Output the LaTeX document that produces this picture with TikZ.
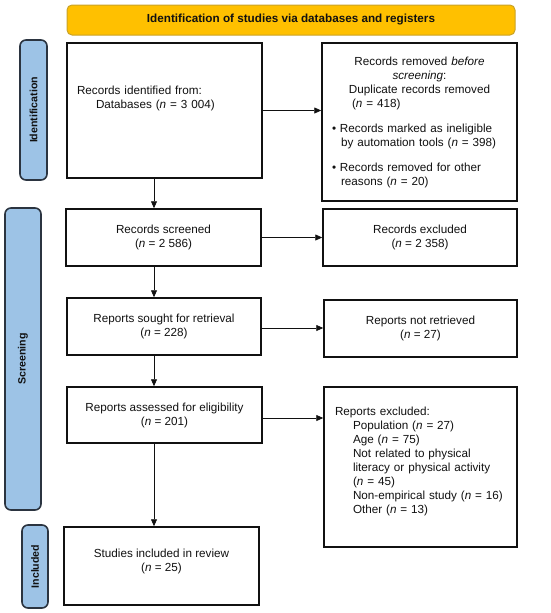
\documentclass[tikz,border=0pt]{standalone}
\usepackage{fontspec}
\setmainfont{Liberation Sans}
\usetikzlibrary{positioning, arrows.meta, calc}
\definecolor{ink}{HTML}{111111}
\definecolor{banner}{HTML}{FFC000}
\definecolor{bannerline}{HTML}{C9A227}
\definecolor{phase}{HTML}{9DC3E6}
\definecolor{phaseline}{HTML}{2B3440}
\tikzset{
  every node/.style = {text=ink},
  pbox/.style    = {draw=ink, line width=1.5pt, fill=white, align=center, inner sep=0pt,
                    font=\fontsize{11.7}{14}\selectfont},
  pbanner/.style = {draw=bannerline, line width=1pt, fill=banner, rounded corners=5pt,
                    minimum width=448pt, minimum height=30pt,
                    font=\fontsize{11.7}{14}\selectfont\bfseries},
  pphase/.style  = {draw=phaseline, line width=1.6pt, fill=phase, rounded corners=6pt,
                    rotate=90, inner sep=0pt, font=\fontsize{10.6}{13}\selectfont\bfseries},
  parr/.style    = {-{Triangle[length=7pt,width=6pt]}, draw=ink, line width=0.8pt},
}
\newcommand{\nn}{\textit{n}}

\begin{document}
\begin{tikzpicture}[x=1pt, y=-1pt]
\useasboundingbox (0,0) rectangle (550,613);

\node[pbanner] (head) at (291,20) {Identification of studies via databases and registers};

\node[pphase, minimum width=140pt, minimum height=27pt] (ident) at (33.5,110) {Identification};
\node[pphase, minimum width=302pt, minimum height=36pt] (screen) at (23,359) {Screening};
\node[pphase, minimum width=83pt, minimum height=26pt] (incl) at (35,566.5) {Included};

\node[pbox, minimum width=195pt, minimum height=135pt, text width=175pt, align=left]
  (found) at (164.5,110.5)
  {Records identified from:\\\hspace*{19pt}Databases (\nn{} = 3 004)\\[12pt]\mbox{}};
\node[pbox, minimum width=195pt, minimum height=158pt, text width=175pt, align=left]
  (removed) at (419.5,122)
  {\makebox[\linewidth]{Records removed \textit{before}}\\
   \makebox[\linewidth]{\textit{screening}:}\\
   \makebox[\linewidth]{Duplicate records removed}\\
   \hspace*{20pt}(\nn{} = 418)\\[11pt]
   \textbullet\ Records marked as ineligible\\
   \hspace*{9pt}by automation tools (\nn{} = 398)\\[11pt]
   \textbullet\ Records removed for other\\
   \hspace*{9pt}reasons (\nn{} = 20)};

\node[pbox, minimum width=195pt, minimum height=57pt] (screened) at (163.5,237.5)
  {Records screened\\(\nn{} = 2 586)};
\node[pbox, minimum width=194pt, minimum height=57pt] (excl) at (420,237.5)
  {Records excluded\\(\nn{} = 2 358)};

\node[pbox, minimum width=194pt, minimum height=57pt] (sought) at (164,326.5)
  {Reports sought for retrieval\\(\nn{} = 228)};
\node[pbox, minimum width=193pt, minimum height=57pt] (notret) at (420.5,328.5)
  {Reports not retrieved\\(\nn{} = 27)};

\node[pbox, minimum width=195pt, minimum height=56pt] (assessed) at (164.5,415)
  {Reports assessed for eligibility\\(\nn{} = 201)};
\node[pbox, minimum width=193pt, minimum height=160pt, text width=171pt, align=left]
  (repexcl) at (420.5,467)
  {Reports excluded:\\
   \hspace*{18pt}Population (\nn{} = 27)\\
   \hspace*{18pt}Age (\nn{} = 75)\\
   \hspace*{18pt}Not related to physical\\
   \hspace*{18pt}literacy or physical activity\\
   \hspace*{18pt}(\nn{} = 45)\\
   \hspace*{18pt}Non-empirical study (\nn{} = 16)\\
   \hspace*{18pt}Other (\nn{} = 13)\\[0pt]\mbox{}};

\node[pbox, minimum width=195pt, minimum height=78pt] (included) at (161.5,566)
  {Studies included in review\\(\nn{} = 25)\\[-2pt]\mbox{}};

\draw[parr] (found) -- (found -| removed.west);
\draw[parr] (screened) -- (screened -| excl.west);
\draw[parr] ($(sought.east)+(0,1.5)$) -- ($(sought.east -| notret.west)+(0,1.5)$);
\draw[parr] ($(assessed.east)+(0,3)$) -- ($(assessed.east -| repexcl.west)+(0,3)$);

\draw[parr] ([xshift=-10.5pt]found.south) -- ([xshift=-10.5pt]found.south |- screened.north);
\draw[parr] ([xshift=-9.5pt]screened.south) -- ([xshift=-9.5pt]screened.south |- sought.north);
\draw[parr] ([xshift=-10pt]sought.south) -- ([xshift=-10pt]sought.south |- assessed.north);
\draw[parr] ([xshift=-10.5pt]assessed.south) -- ([xshift=-10.5pt]assessed.south |- included.north);
\end{tikzpicture}
\end{document}
